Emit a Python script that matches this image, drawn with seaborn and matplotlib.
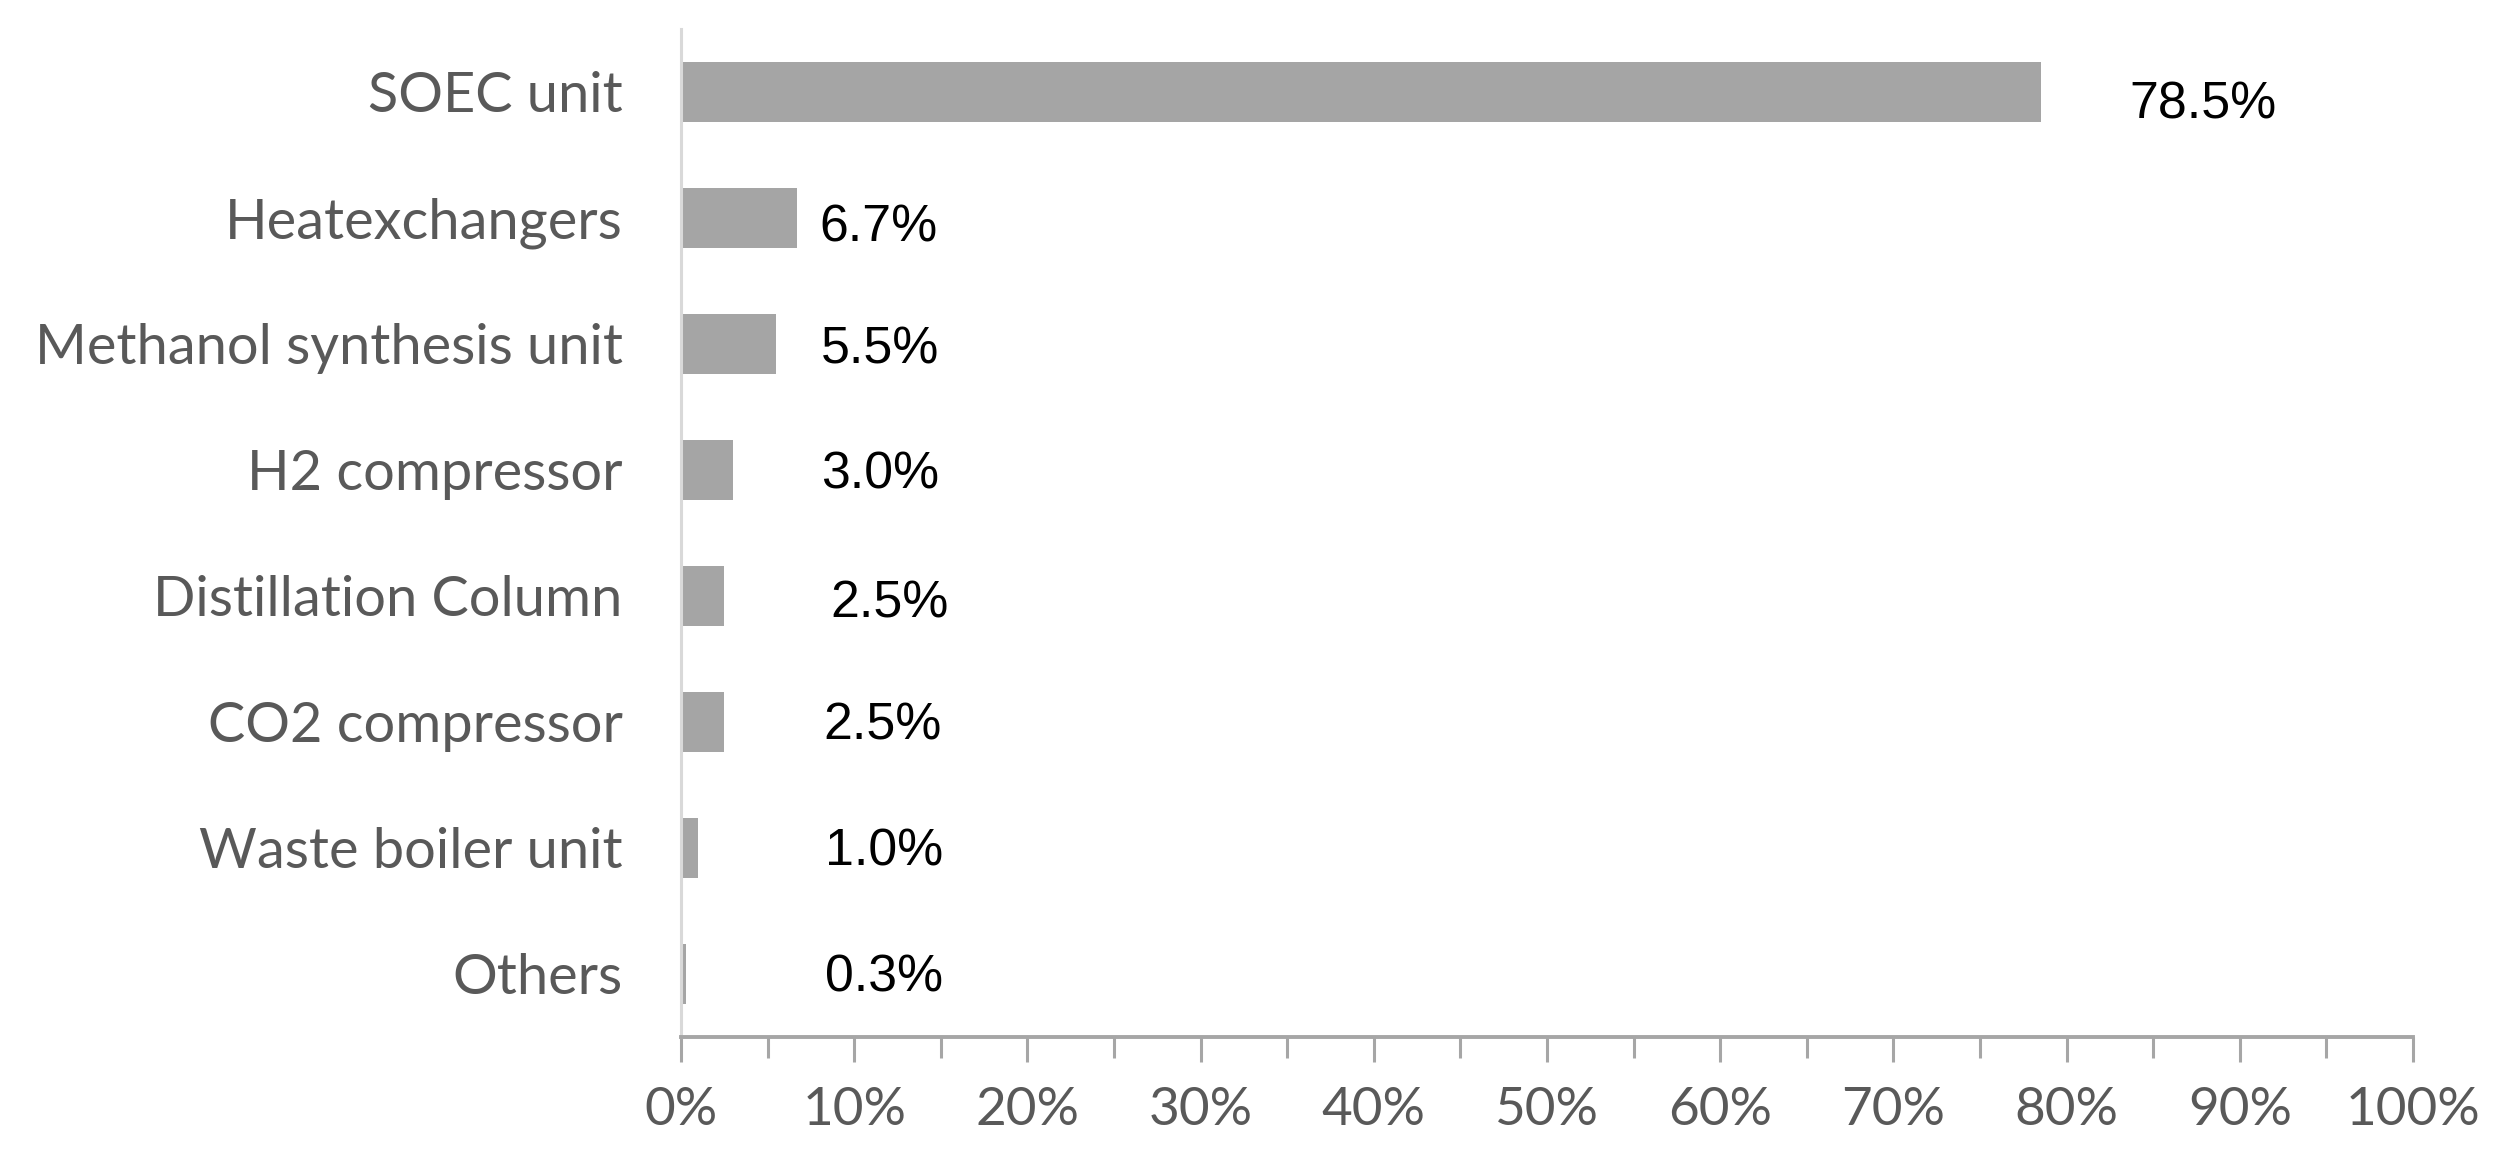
import matplotlib
matplotlib.use("Agg")
import matplotlib.pyplot as plt
import seaborn as sns
import pandas as pd
from matplotlib.ticker import MultipleLocator, FuncFormatter

categories = ["SOEC unit", "Heatexchangers", "Methanol synthesis unit", "H2 compressor",
              "Distillation Column", "CO2 compressor", "Waste boiler unit", "Others"]
shares = [78.5, 6.7, 5.5, 3.0, 2.5, 2.5, 1.0, 0.3]
value_labels = ["78.5%", "6.7%", "5.5%", "3.0%", "2.5%", "2.5%", "1.0%", "0.3%"]

# layout: left x (in % units) of each value label
label_x = [83.6, 8.0, 8.1, 8.1, 8.6, 8.2, 8.3, 8.3]
label_dy = [0.10, 0.08, 0.05, 0.04, 0.06, 0.03, 0.03, 0.03]

df = pd.DataFrame({"category": categories, "share": shares})

sns.set_theme(style="white")
W, H, DPI = 2514, 1165, 100
fig = plt.figure(figsize=(W / DPI, H / DPI), dpi=DPI)
ax = fig.add_axes([681 / W, 1 - 1037 / H, (2413 - 681) / W, (1037 - 29) / H])

sns.barplot(data=df, x="share", y="category", color="#A5A5A5", saturation=1,
            width=0.48, ax=ax, orient="h")
for p in ax.patches:
    p.set_edgecolor("none")

ax.set_xlim(0, 100)
ax.set_ylim(len(categories) - 0.5, -0.5)
ax.set_xlabel("")
ax.set_ylabel("")

ax.xaxis.set_major_locator(MultipleLocator(10))
ax.xaxis.set_minor_locator(MultipleLocator(5))
ax.xaxis.set_major_formatter(FuncFormatter(lambda v, p: f"{v:.0f}%"))

for s in ["top", "right"]:
    ax.spines[s].set_visible(False)
ax.spines["bottom"].set_color("#A6A6A6")
ax.spines["bottom"].set_linewidth(2.8)
ax.spines["left"].set_color("#D9D9D9")
ax.spines["left"].set_linewidth(2.2)

ax.tick_params(axis="x", which="major", direction="out", length=18, width=2.2,
               color="#A6A6A6", pad=18, labelcolor="#595959", bottom=True)
ax.tick_params(axis="x", which="minor", direction="out", length=15, width=2.2,
               color="#A6A6A6", bottom=True)
ax.tick_params(axis="y", length=0, pad=42, labelcolor="#595959")

cat_font = ["Lato", "DejaVu Sans"]
val_font = ["Liberation Sans", "DejaVu Sans"]

renderer = fig.canvas.get_renderer()

def fit_size(text, family, target_px, start=30):
    t = fig.text(0, 0, text, family=family, fontsize=start)
    w = t.get_window_extent(renderer).width
    t.remove()
    return start * target_px / w

cat_size = fit_size("Methanol synthesis unit", cat_font, 587)
tick_size = fit_size("100%", cat_font, 135)
val_size = fit_size("78.5%", val_font, 147)

for lab in ax.get_yticklabels():
    lab.set_fontfamily(cat_font)
    lab.set_fontsize(cat_size)
for lab in ax.get_xticklabels():
    lab.set_fontfamily(cat_font)
    lab.set_fontsize(tick_size)

for i, txt in enumerate(value_labels):
    ax.text(label_x[i], i + label_dy[i], txt, ha="left", va="center",
            family=val_font, fontsize=val_size, color="#000000")

fig.savefig("out.png", dpi=DPI, facecolor="white")
